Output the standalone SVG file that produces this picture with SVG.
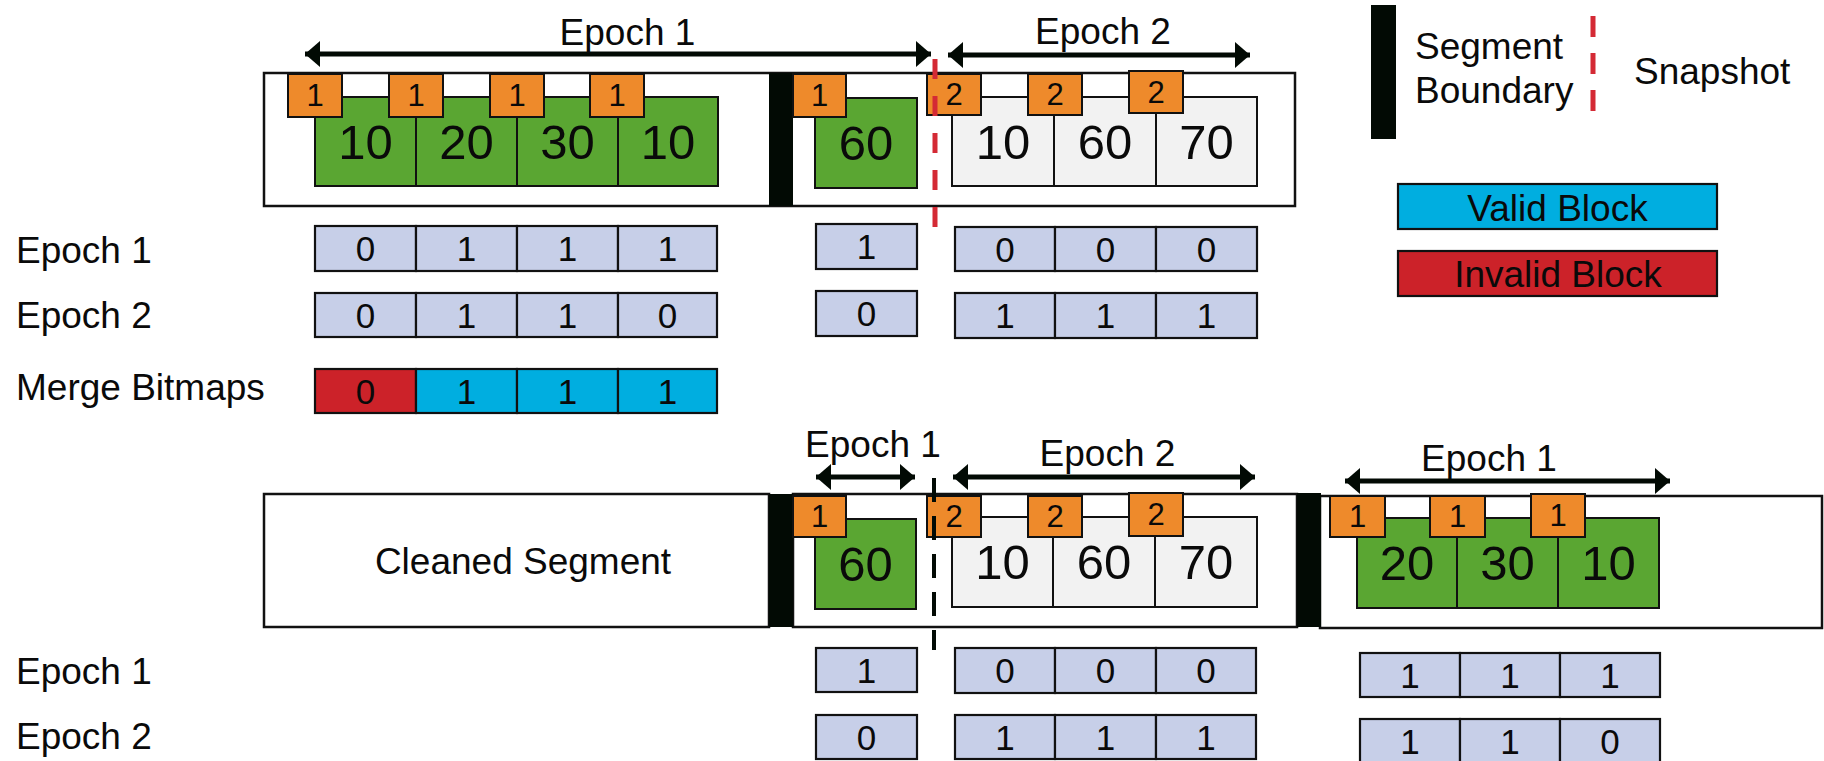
<svg xmlns="http://www.w3.org/2000/svg" width="1824" height="761" viewBox="0 0 1824 761">
<style>
text{font-family:"Liberation Sans",Arial,sans-serif;fill:#0a0a0a}
.seg{fill:#fff;stroke:#111;stroke-width:2.5}
.bar{fill:#020a04}
.g{fill:#5aa632;stroke:#111;stroke-width:2}
.w{fill:#f2f2f2;stroke:#111;stroke-width:2}
.tag{fill:#ee8a2b;stroke:#111;stroke-width:2}
.bm{fill:#c7cfe8;stroke:#111;stroke-width:2.2}
.val{fill:#00aee0;stroke:#111;stroke-width:2.2}
.inv{fill:#cc2229;stroke:#111;stroke-width:2.2}
.big{font-size:49px;text-anchor:middle}
.tg{font-size:31px;text-anchor:middle}
.bd{font-size:35px;text-anchor:middle}
.lg{font-size:37px;text-anchor:middle}
.lbl{font-size:37px}
.ep{font-size:37px;text-anchor:middle}
.arr{stroke:#020a04;stroke-width:5;fill:none;marker-start:url(#ah);marker-end:url(#ah)}
</style>
<defs>
<marker id="ah" markerUnits="userSpaceOnUse" viewBox="0 0 15 26" refX="15" refY="13" markerWidth="15" markerHeight="26" orient="auto-start-reverse">
<path d="M0,0 L15,13 L0,26 Z" fill="#020a04"/>
</marker>
</defs>

<!-- Top segment -->
<g id="top-segment">
<rect class="seg" x="264" y="73" width="1031" height="133"/>
<rect class="bar" x="769" y="73" width="24" height="133"/>
<rect class="g" x="315" y="97" width="101" height="89"/>
<rect class="g" x="416" y="97" width="101" height="89"/>
<rect class="g" x="517" y="97" width="101" height="89"/>
<rect class="g" x="618" y="97" width="100" height="89"/>
<text class="big" x="365.5" y="159">10</text>
<text class="big" x="466.5" y="159">20</text>
<text class="big" x="567.5" y="159">30</text>
<text class="big" x="668" y="159">10</text>
<rect class="tag" x="288" y="74" width="54" height="43"/>
<rect class="tag" x="389" y="74" width="54" height="43"/>
<rect class="tag" x="490" y="74" width="54" height="43"/>
<rect class="tag" x="590" y="74" width="54" height="43"/>
<text class="tg" x="315" y="106">1</text>
<text class="tg" x="416" y="106">1</text>
<text class="tg" x="517" y="106">1</text>
<text class="tg" x="617" y="106">1</text>
<rect class="g" x="815" y="98" width="102" height="90"/>
<text class="big" x="866" y="160">60</text>
<rect class="tag" x="793" y="74" width="53" height="43"/>
<text class="tg" x="819.5" y="106">1</text>
<rect class="w" x="952" y="97" width="102" height="89"/>
<rect class="w" x="1054" y="97" width="102" height="89"/>
<rect class="w" x="1156" y="97" width="101" height="89"/>
<text class="big" x="1003" y="159">10</text>
<text class="big" x="1105" y="159">60</text>
<text class="big" x="1206.5" y="159">70</text>
<rect class="tag" x="927" y="74" width="54" height="41"/>
<rect class="tag" x="1028" y="74" width="54" height="41"/>
<rect class="tag" x="1129" y="71" width="54" height="42"/>
<text class="tg" x="954" y="105">2</text>
<text class="tg" x="1055" y="105">2</text>
<text class="tg" x="1156" y="103">2</text>
</g>

<!-- Legend -->
<g id="legend">
<rect class="bar" x="1371" y="5" width="25" height="134"/>
<text class="lbl" x="1415" y="59">Segment</text>
<text class="lbl" x="1415" y="103">Boundary</text>
<line x1="1593" y1="16" x2="1593" y2="112" stroke="#d42a35" stroke-width="5" stroke-dasharray="21 16"/>
<text class="lbl" x="1634" y="84">Snapshot</text>
<rect class="val" x="1398" y="184" width="319" height="45"/>
<text class="lg" x="1557.5" y="221">Valid Block</text>
<rect class="inv" x="1398" y="251" width="319" height="45"/>
<text class="lg" x="1558" y="287">Invalid Block</text>
</g>

<!-- Row labels -->
<g id="row-labels">
<text class="lbl" x="16" y="263">Epoch 1</text>
<text class="lbl" x="16" y="328">Epoch 2</text>
<text class="lbl" x="16" y="400">Merge Bitmaps</text>
<text class="lbl" x="16" y="684">Epoch 1</text>
<text class="lbl" x="16" y="749">Epoch 2</text>
</g>

<!-- Top bitmaps -->
<g id="top-bitmaps">
<rect class="bm" x="315" y="226" width="101" height="45"/>
<rect class="bm" x="416" y="226" width="101" height="45"/>
<rect class="bm" x="517" y="226" width="101" height="45"/>
<rect class="bm" x="618" y="226" width="99" height="45"/>
<text class="bd" x="365.5" y="261">0</text><text class="bd" x="466.5" y="261">1</text><text class="bd" x="567.5" y="261">1</text><text class="bd" x="667.5" y="261">1</text>
<rect class="bm" x="315" y="293" width="101" height="44"/>
<rect class="bm" x="416" y="293" width="101" height="44"/>
<rect class="bm" x="517" y="293" width="101" height="44"/>
<rect class="bm" x="618" y="293" width="99" height="44"/>
<text class="bd" x="365.5" y="328">0</text><text class="bd" x="466.5" y="328">1</text><text class="bd" x="567.5" y="328">1</text><text class="bd" x="667.5" y="328">0</text>
<rect class="inv" x="315" y="369" width="101" height="44"/>
<rect class="val" x="416" y="369" width="101" height="44"/>
<rect class="val" x="517" y="369" width="101" height="44"/>
<rect class="val" x="618" y="369" width="99" height="44"/>
<text class="bd" x="365.5" y="404">0</text><text class="bd" x="466.5" y="404">1</text><text class="bd" x="567.5" y="404">1</text><text class="bd" x="667.5" y="404">1</text>
<rect class="bm" x="816" y="224" width="101" height="45"/>
<text class="bd" x="866.5" y="259">1</text>
<rect class="bm" x="816" y="291" width="101" height="45"/>
<text class="bd" x="866.5" y="326">0</text>
<rect class="bm" x="955" y="227" width="100" height="44"/>
<rect class="bm" x="1055" y="227" width="101" height="44"/>
<rect class="bm" x="1156" y="227" width="101" height="44"/>
<text class="bd" x="1005" y="262">0</text><text class="bd" x="1105.5" y="262">0</text><text class="bd" x="1206.5" y="262">0</text>
<rect class="bm" x="955" y="293" width="100" height="45"/>
<rect class="bm" x="1055" y="293" width="101" height="45"/>
<rect class="bm" x="1156" y="293" width="101" height="45"/>
<text class="bd" x="1005" y="328">1</text><text class="bd" x="1105.5" y="328">1</text><text class="bd" x="1206.5" y="328">1</text>
</g>

<!-- Bottom segments -->
<g id="cleaned-segment">
<rect class="seg" x="264" y="494" width="505" height="133"/>
<text x="523" y="574" font-size="37" text-anchor="middle">Cleaned Segment</text>
</g>
<g id="bottom-segment-2">
<rect class="seg" x="793" y="494" width="504" height="133"/>
<rect class="bar" x="769" y="494" width="24" height="133"/>
<rect class="g" x="815" y="519" width="101" height="90"/>
<text class="big" x="865.5" y="581">60</text>
<rect class="tag" x="793" y="496" width="53" height="41"/>
<text class="tg" x="819.5" y="527">1</text>
<rect class="w" x="952" y="517" width="101" height="90"/>
<rect class="w" x="1053" y="517" width="102" height="90"/>
<rect class="w" x="1155" y="517" width="102" height="90"/>
<text class="big" x="1002.5" y="579">10</text>
<text class="big" x="1104" y="579">60</text>
<text class="big" x="1206" y="579">70</text>
<rect class="tag" x="927" y="496" width="54" height="41"/>
<rect class="tag" x="1028" y="496" width="54" height="41"/>
<rect class="tag" x="1129" y="493" width="54" height="43"/>
<text class="tg" x="954" y="527">2</text>
<text class="tg" x="1055" y="527">2</text>
<text class="tg" x="1156" y="525">2</text>
</g>
<g id="bottom-segment-3">
<rect class="seg" x="1320" y="496" width="502" height="132"/>
<rect class="bar" x="1297" y="493" width="24" height="134"/>
<rect class="g" x="1357" y="518" width="100" height="90"/>
<rect class="g" x="1457" y="518" width="101" height="90"/>
<rect class="g" x="1558" y="518" width="101" height="90"/>
<text class="big" x="1407" y="580">20</text>
<text class="big" x="1507.5" y="580">30</text>
<text class="big" x="1608.5" y="580">10</text>
<rect class="tag" x="1330" y="496" width="55" height="41"/>
<rect class="tag" x="1430" y="496" width="55" height="41"/>
<rect class="tag" x="1531" y="494" width="54" height="43"/>
<text class="tg" x="1357.5" y="527">1</text>
<text class="tg" x="1457.5" y="527">1</text>
<text class="tg" x="1558" y="526">1</text>
</g>

<!-- Bottom bitmaps -->
<g id="bottom-bitmaps">
<rect class="bm" x="816" y="648" width="101" height="44"/>
<text class="bd" x="866.5" y="683">1</text>
<rect class="bm" x="816" y="715" width="101" height="44"/>
<text class="bd" x="866.5" y="750">0</text>
<rect class="bm" x="955" y="648" width="100" height="45"/>
<rect class="bm" x="1055" y="648" width="101" height="45"/>
<rect class="bm" x="1156" y="648" width="100" height="45"/>
<text class="bd" x="1005" y="683">0</text><text class="bd" x="1105.5" y="683">0</text><text class="bd" x="1206" y="683">0</text>
<rect class="bm" x="955" y="715" width="100" height="44"/>
<rect class="bm" x="1055" y="715" width="101" height="44"/>
<rect class="bm" x="1156" y="715" width="100" height="44"/>
<text class="bd" x="1005" y="750">1</text><text class="bd" x="1105.5" y="750">1</text><text class="bd" x="1206" y="750">1</text>
<rect class="bm" x="1360" y="653" width="100" height="44"/>
<rect class="bm" x="1460" y="653" width="100" height="44"/>
<rect class="bm" x="1560" y="653" width="100" height="44"/>
<text class="bd" x="1410" y="688">1</text><text class="bd" x="1510" y="688">1</text><text class="bd" x="1610" y="688">1</text>
<rect class="bm" x="1360" y="719" width="100" height="44"/>
<rect class="bm" x="1460" y="719" width="100" height="44"/>
<rect class="bm" x="1560" y="719" width="100" height="44"/>
<text class="bd" x="1410" y="754">1</text><text class="bd" x="1510" y="754">1</text><text class="bd" x="1610" y="754">0</text>
</g>

<!-- Connectors: epoch arrows and snapshot lines -->
<g id="connectors">
<line x1="935" y1="59" x2="935" y2="228" stroke="#d42a35" stroke-width="5" stroke-dasharray="20 17"/>
<line x1="934" y1="478" x2="934" y2="650" stroke="#020a04" stroke-width="4" stroke-dasharray="24 14"/>
<line class="arr" x1="305" y1="54" x2="931" y2="54"/>
<line class="arr" x1="948" y1="55" x2="1250" y2="55"/>
<line class="arr" x1="816" y1="477" x2="915" y2="477"/>
<line class="arr" x1="953" y1="477" x2="1255" y2="477"/>
<line class="arr" x1="1345" y1="481" x2="1670" y2="481"/>
</g>

<g id="epoch-labels">
<text class="ep" x="627.5" y="45">Epoch 1</text>
<text class="ep" x="1103" y="44">Epoch 2</text>
<text class="ep" x="873" y="457">Epoch 1</text>
<text class="ep" x="1107.5" y="466">Epoch 2</text>
<text class="ep" x="1489" y="471">Epoch 1</text>
</g>
</svg>
